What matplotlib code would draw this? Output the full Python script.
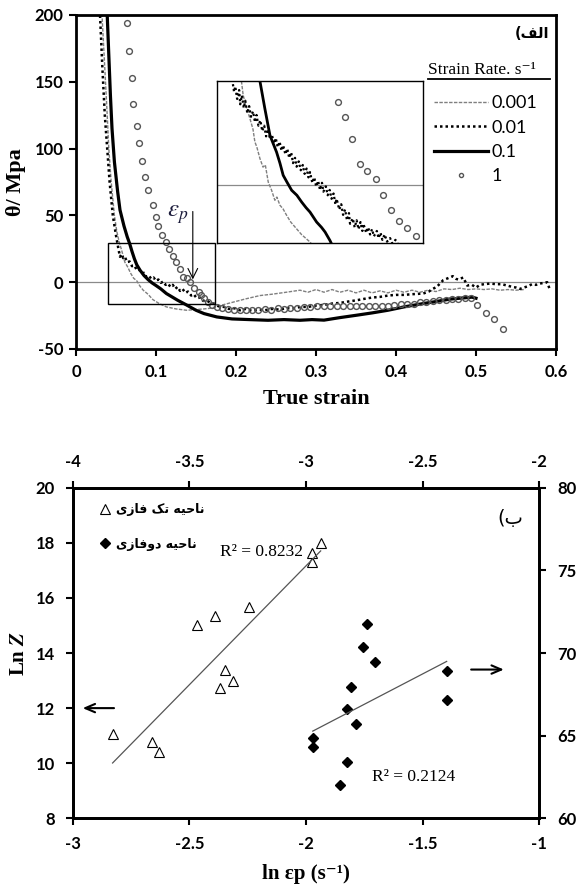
import numpy as np
import matplotlib
matplotlib.use("Agg")
import matplotlib.pyplot as plt
from matplotlib.patches import Rectangle
from matplotlib.lines import Line2D

plt.rcParams["font.family"] = ["Lato", "DejaVu Sans"]
plt.rcParams["mathtext.fontset"] = "stix"
plt.rcParams["axes.unicode_minus"] = False

SERIF = ["Liberation Serif", "DejaVu Serif"]
ARAB = ["DejaVu Sans"]

# ---------------- panel (a): work hardening rate vs true strain ----------------
rate_labels = ["0.001", "0.01", "0.1", "1"]

curve_001 = [(0.031, 215), (0.0325, 200), (0.036, 160), (0.039, 125), (0.041, 100), (0.044, 75),
             (0.048, 50), (0.051, 38), (0.054, 30), (0.057, 24), (0.061, 15), (0.065, 11), (0.068, 7),
             (0.072, 3), (0.076, 1), (0.080, -3), (0.084, -6), (0.090, -9), (0.096, -13), (0.104, -16),
             (0.113, -18.5), (0.125, -20), (0.138, -21), (0.150, -20.5), (0.160, -20), (0.168, -19.5),
             (0.180, -17.5), (0.196, -15), (0.212, -12.5), (0.230, -10), (0.245, -9), (0.263, -7.5),
             (0.280, -6), (0.290, -7.5), (0.300, -5.5), (0.310, -7.5), (0.320, -5.5), (0.330, -7.5),
             (0.340, -6), (0.350, -8), (0.360, -6), (0.370, -8), (0.380, -6.5), (0.390, -8), (0.400, -6),
             (0.410, -7.5), (0.420, -6), (0.430, -7.5), (0.440, -6), (0.450, -7), (0.460, -5),
             (0.470, -5.5), (0.480, -4.5), (0.490, -5.5), (0.500, -5), (0.510, -5.5), (0.520, -5),
             (0.530, -6), (0.540, -5.5), (0.550, -6), (0.560, -5.5)]

curve_01 = [(0.029, 215), (0.030, 200), (0.033, 160), (0.036, 125), (0.039, 100), (0.042, 75),
            (0.046, 50), (0.050, 35), (0.053, 25), (0.055, 19), (0.057, 21), (0.059, 18), (0.061, 19),
            (0.064, 15), (0.067, 15.5), (0.070, 12), (0.073, 12.5), (0.076, 9), (0.079, 9.5),
            (0.082, 6.5), (0.085, 7), (0.088, 4), (0.091, 5), (0.094, 2.5), (0.097, 3.5), (0.100, 1),
            (0.103, 2), (0.106, -0.5), (0.109, 0.5), (0.112, -2), (0.115, -1), (0.118, -3.5),
            (0.121, -2), (0.124, -5), (0.127, -3.5), (0.130, -6.5), (0.133, -5), (0.137, -8),
            (0.140, -7), (0.144, -10), (0.147, -9), (0.151, -12), (0.155, -11.5), (0.159, -14),
            (0.163, -13.5), (0.168, -15.5), (0.172, -16), (0.178, -18), (0.185, -18.5), (0.191, -20),
            (0.198, -19.5), (0.205, -21), (0.212, -20), (0.220, -21.5), (0.228, -20.5), (0.236, -21),
            (0.245, -20), (0.254, -20.5), (0.263, -19.5), (0.272, -19.5), (0.281, -18.5),
            (0.290, -18.5), (0.300, -17.5), (0.310, -17), (0.320, -16), (0.330, -15.5), (0.340, -14.5),
            (0.351, -13.5), (0.360, -12.5), (0.370, -11.5), (0.380, -11), (0.390, -10), (0.400, -9.5),
            (0.410, -9.5), (0.420, -9), (0.434, -8.5), (0.441, -7), (0.446, -5), (0.451, -3.5),
            (0.455, -1), (0.459, 1.5), (0.465, 3), (0.471, 4.5), (0.475, 2.5), (0.478, 2), (0.484, 3.5),
            (0.487, 0), (0.489, -2.5), (0.495, -2), (0.500, -4), (0.505, -2), (0.510, -1.5),
            (0.518, -1), (0.525, -1.5), (0.532, -1.5), (0.539, -2.5), (0.545, -3.5), (0.550, -4),
            (0.555, -5), (0.560, -4), (0.565, -3), (0.570, -1.5), (0.575, -2), (0.580, -1),
            (0.585, -0.5), (0.589, 0), (0.592, -5)]

curve_1_ = [(0.038, 215), (0.039, 200), (0.041, 170), (0.043, 140), (0.045, 115), (0.048, 90),
            (0.052, 68), (0.055, 54), (0.060, 42), (0.064, 34), (0.067, 29), (0.070, 23), (0.073, 17.5),
            (0.076, 13), (0.080, 9), (0.085, 5), (0.090, 2), (0.095, -0.5), (0.100, -2.5), (0.106, -5),
            (0.113, -8.5), (0.120, -11), (0.127, -13.5), (0.138, -17), (0.150, -21), (0.160, -23.5),
            (0.176, -26), (0.195, -27.5), (0.217, -28), (0.240, -28.5), (0.260, -28), (0.280, -28.5),
            (0.295, -28), (0.310, -28.4), (0.330, -26.5), (0.351, -24.7), (0.370, -23), (0.390, -21),
            (0.410, -18.5), (0.434, -16), (0.450, -14.5), (0.467, -12.7), (0.480, -12), (0.495, -11.2),
            (0.500, -12)]

curve_1 = [(0.0633, 194), (0.0667, 173), (0.070, 153), (0.0717, 133), (0.0758, 117), (0.079, 104),
           (0.0825, 91), (0.0867, 79), (0.090, 69), (0.0958, 58), (0.100, 49), (0.103, 42),
           (0.1075, 35), (0.112, 30), (0.1167, 24.5), (0.121, 19.5), (0.125, 15), (0.130, 10),
           (0.134, 4), (0.139, 3), (0.143, 0), (0.148, -4.5), (0.1533, -7.2), (0.1567, -9.7),
           (0.160, -12.2), (0.165, -14.7), (0.170, -17.2), (0.176, -18.5), (0.183, -19.5), (0.190, -20),
           (0.197, -20.5), (0.205, -20.5), (0.213, -21), (0.220, -20.5), (0.228, -21), (0.236, -20),
           (0.244, -20.5), (0.252, -19.5), (0.260, -20), (0.268, -19), (0.276, -19), (0.285, -18.5),
           (0.293, -18.5), (0.301, -18), (0.310, -17.5), (0.318, -18), (0.326, -17.5), (0.334, -17.5),
           (0.342, -18), (0.350, -17.5), (0.358, -17.5), (0.366, -18), (0.374, -17.5), (0.382, -18),
           (0.390, -17.5), (0.398, -17), (0.406, -16.5), (0.414, -16.5), (0.422, -16), (0.430, -15),
           (0.438, -14.5), (0.446, -14), (0.454, -13.5), (0.462, -13), (0.470, -12.5), (0.478, -12.5),
           (0.486, -12), (0.494, -11.5), (0.5008, -17.2), (0.5125, -23), (0.523, -27.7), (0.534, -35.2)]

# magnified view of the box around the zero crossing
inset_001 = [(0.054, 33), (0.056, 29), (0.0571, 25.1), (0.059, 22), (0.0615, 18.5), (0.0635, 15.5),
             (0.0647, 12), (0.066, 10.5), (0.068, 7.3), (0.070, 4.9), (0.0715, 5.5), (0.0734, 0.7),
             (0.0755, -1.5), (0.0777, -4.4), (0.079, -3.5), (0.081, -5.8), (0.083, -6.8),
             (0.0853, -8.6), (0.088, -10.5), (0.0918, -12.4), (0.095, -14), (0.1005, -16.1), (0.104, -18)]

inset_01 = [(0.0500, 29.5), (0.0512, 26.0), (0.0520, 27.5), (0.0532, 24.0), (0.0545, 26.5),
            (0.0552, 22.5), (0.0563, 25.0), (0.0575, 21.5), (0.0585, 23.5), (0.0598, 20.0),
            (0.0610, 22.0), (0.0622, 19.0), (0.0635, 20.5), (0.0648, 17.5), (0.0658, 19.5),
            (0.0670, 16.5), (0.0683, 18.0), (0.0695, 15.0), (0.0708, 16.5), (0.0720, 13.5),
            (0.0733, 15.5), (0.0745, 12.8), (0.0758, 14.0), (0.0770, 11.5), (0.0783, 13.0),
            (0.0795, 10.5), (0.0808, 12.0), (0.0820, 9.5), (0.0831, 11.0), (0.0845, 8.5),
            (0.0858, 10.0), (0.0870, 7.5), (0.0883, 9.0), (0.0895, 6.0), (0.0908, 7.5), (0.0918, 5.0),
            (0.0932, 6.5), (0.0945, 4.0), (0.0958, 5.5), (0.0970, 3.0), (0.0983, 4.5), (0.0995, 2.0),
            (0.1005, 3.5), (0.1020, 0.5), (0.1033, 2.0), (0.1045, -0.5), (0.1058, 1.0), (0.1070, -1.5),
            (0.1083, 0.5), (0.1092, -2.0), (0.1108, -0.5), (0.1120, -3.0), (0.1133, -1.5),
            (0.1145, -4.0), (0.1158, -2.5), (0.1170, -5.5), (0.1178, -4.0), (0.1195, -7.0),
            (0.1208, -5.5), (0.1220, -8.5), (0.1233, -7.0), (0.1245, -10.0), (0.1258, -8.0),
            (0.1265, -11.0), (0.1283, -9.5), (0.1295, -12.0), (0.1308, -10.0), (0.1320, -12.5),
            (0.1333, -10.5), (0.1345, -13.0), (0.1352, -11.0), (0.1370, -13.5), (0.1383, -12.0),
            (0.1395, -14.0), (0.1408, -12.5), (0.1420, -14.5), (0.1439, -13.0), (0.1450, -15.0),
            (0.1463, -13.5), (0.1475, -15.5), (0.1490, -14.0), (0.1505, -16.0), (0.1525, -15.0),
            (0.1540, -16.5), (0.1560, -15.5), (0.1580, -17.0)]

inset_1_ = [(0.067, 33), (0.068, 29), (0.0712, 21.3), (0.0745, 13.8), (0.0788, 9.1), (0.081, 6),
            (0.0831, 2.6), (0.0858, 0.5), (0.0886, -1.6), (0.092, -3), (0.0951, -4.9), (0.098, -6.5),
            (0.1005, -7.7), (0.1048, -10.5), (0.108, -12), (0.1103, -13.3), (0.1135, -15.7), (0.116, -18)]

inset_1 = [(0.1185, 23.2), (0.1233, 19), (0.128, 12.9), (0.133, 5.9), (0.1375, 3.7), (0.1433, 1.7),
           (0.1479, -2.8), (0.153, -7.2), (0.1584, -10.1), (0.1634, -12.2), (0.1692, -14.3)]

# ---------------- panel (b): Ln Z vs ln strain at peak ----------------
ln_eps_single = [-2.829, -2.661, -2.629, -2.466, -2.390, -2.246, -2.369, -2.346, -2.314, -1.974, -1.974, -1.937]
lnZ_single = [11.06, 10.78, 10.42, 15.00, 15.34, 15.66, 12.72, 13.38, 13.00, 17.31, 17.62, 17.98]
ln_eps_dual = [-2.737, -2.754, -2.703, -2.807, -2.823, -2.786, -2.971, -2.971, -2.823, -2.854, -2.397, -2.397]
lnZ_dual = [71.77, 70.34, 69.47, 67.96, 66.63, 65.72, 64.88, 64.33, 63.42, 62.01, 68.93, 67.16]

# Persian / Arabic labels written in visual order (matplotlib does no shaping)
label_a = "(\uFED2\uFEDF\uFE8D"
label_b = "(\uFE8F"
label_single = "\uFEEF\uFEAF\uFE8E\uFED3 \uFB8F\uFE97 \uFEEA\uFEF4\uFEA3\uFE8E\uFEE7"
label_dual = "\uFEEF\uFEAF\uFE8E\uFED3\uFEED\uFEA9 \uFEEA\uFEF4\uFEA3\uFE8E\uFEE7"

GRAY_LS = (0, (2.5, 1))
DOT_LS = (0, (1, 1.2))


def xy(pts):
    a = np.array(pts, dtype=float)
    return a[:, 0], a[:, 1]


def bold_ticks(a, size=12):
    for lbl in a.get_xticklabels() + a.get_yticklabels():
        lbl.set_fontweight("bold")
        lbl.set_fontsize(size)


fig = plt.figure(figsize=(5.82, 8.86), dpi=100)

# ======== top panel ========
ax = fig.add_axes([0.1306, 0.6061, 0.8247, 0.377])
ax.axhline(0, color="#8a8a8a", lw=0.9, zorder=1)

x, y = xy(curve_001)
l1, = ax.plot(x, y, color="#7f7f7f", lw=1.0, ls=GRAY_LS, zorder=2)
x, y = xy(curve_01)
l2, = ax.plot(x, y, color="black", lw=1.8, ls=DOT_LS, zorder=3)
x, y = xy(curve_1_)
l3, = ax.plot(x, y, color="black", lw=2.3, zorder=3)
x, y = xy(curve_1)
l4, = ax.plot(x, y, ls="none", marker="o", ms=4.2, mfc="none", mec="#555555", mew=1.0, zorder=4)

ax.set_xlim(0, 0.6)
ax.set_ylim(-50, 200)
ax.set_xticks(np.arange(0, 0.61, 0.1))
ax.set_xticklabels(["0", "0.1", "0.2", "0.3", "0.4", "0.5", "0.6"])
ax.set_yticks(np.arange(-50, 201, 50))
ax.tick_params(direction="out", length=5, width=1.5, pad=6, top=False, right=False)
ax.tick_params(axis="y", pad=4)
bold_ticks(ax)
for s in ax.spines.values():
    s.set_linewidth(2)

ax.set_xlabel("True strain", family=SERIF, fontweight="bold", fontsize=16)
ax.xaxis.set_label_coords(0.5, -0.12)
ax.set_ylabel("θ/ Mpa", family=SERIF, fontweight="bold", fontsize=16)
ax.yaxis.set_label_coords(-0.105, 0.5)

# box marking the magnified region
ax.add_patch(Rectangle((0.04, -16.5), 0.134, 45.5, fill=False, lw=1, ec="black", zorder=5))

ins = ax.inset_axes([0.176, 29, 0.258, 121.5], transform=ax.transData)
ins.axhline(0, color="#8a8a8a", lw=0.9)
x, y = xy(inset_001)
ins.plot(x, y, color="#7f7f7f", lw=1.0, ls=GRAY_LS)
x, y = xy(inset_01)
ins.plot(x, y, color="black", lw=1.6, ls=DOT_LS)
x, y = xy(inset_1_)
ins.plot(x, y, color="black", lw=2.0)
x, y = xy(inset_1)
ins.plot(x, y, ls="none", marker="o", ms=4.2, mfc="none", mec="#555555", mew=1.0)
ins.set_xlim(0.04, 0.174)
ins.set_ylim(-16.5, 29)
ins.set_xticks([])
ins.set_yticks([])
for s in ins.spines.values():
    s.set_linewidth(1)

# epsilon_p marker
ax.annotate("", xy=(0.146, 0), xytext=(0.146, 55),
            arrowprops=dict(arrowstyle="->,head_width=0.35,head_length=0.7", lw=0.8, color="black"))
ax.text(0.1275, 51, r"$\varepsilon_p$", fontsize=18, ha="center", va="center", color="#1a1a3a")

# legend
ax.text(0.733, 0.835, "Strain Rate. s⁻¹", transform=ax.transAxes, family=SERIF,
        fontsize=12.5, ha="left", va="center")
ax.add_line(Line2D([0.733, 0.987], [0.807, 0.807], transform=ax.transAxes, color="black", lw=1.3))
ax.text(0.985, 0.946, label_a, transform=ax.transAxes, family=ARAB, fontweight="bold",
        fontsize=10.5, ha="right", va="center")
ax.legend([l1, l2, l3, l4], rate_labels, loc="upper left", bbox_to_anchor=(0.745, 0.759),
          frameon=False, handlelength=3.0, handletextpad=0.2, labelspacing=0.46,
          borderpad=0, borderaxespad=0, markerscale=0.7, prop={"family": "Lato", "size": 13})

# ======== bottom panel ========
axb = fig.add_axes([0.1249, 0.0764, 0.8017, 0.3731])
axd = fig.add_axes([0.1249, 0.0764, 0.8017, 0.3731])
axd.patch.set_visible(False)

tri, = axb.plot(ln_eps_single, lnZ_single, ls="none", marker="^", ms=6.5, mfc="white",
                mec="black", mew=0.8)
k1 = np.polyfit(ln_eps_single, lnZ_single, 1)
xf = np.array([min(ln_eps_single), max(ln_eps_single)])
axb.plot(xf, np.polyval(k1, xf), color="#555555", lw=0.9)

dia, = axd.plot(ln_eps_dual, lnZ_dual, ls="none", marker="D", ms=5, mfc="black", mec="black")
k2 = np.polyfit(ln_eps_dual, lnZ_dual, 1)
xf2 = np.array([min(ln_eps_dual), max(ln_eps_dual)])
axd.plot(xf2, np.polyval(k2, xf2), color="#555555", lw=0.9)

axb.set_xlim(-3, -1)
axb.set_ylim(8, 20)
axb.set_xticks(np.arange(-3, -0.99, 0.5))
axb.set_xticklabels(["-3", "-2.5", "-2", "-1.5", "-1"])
axb.set_yticks(np.arange(8, 21, 2))
axb.tick_params(direction="out", length=5, width=1.5, pad=8, top=False, right=False)

axd.set_xlim(-4, -2)
axd.set_ylim(60, 80)
axd.set_xticks(np.arange(-4, -1.99, 0.5))
axd.set_xticklabels(["-4", "-3.5", "-3", "-2.5", "-2"])
axd.set_yticks(np.arange(60, 81, 5))
axd.xaxis.tick_top()
axd.yaxis.tick_right()
axd.tick_params(direction="out", length=5, width=1.5, pad=8)
bold_ticks(axb)
bold_ticks(axd)
for a in (axb, axd):
    for s in a.spines.values():
        s.set_linewidth(2)

axb.set_xlabel("ln εp (s⁻¹)", family=SERIF, fontweight="bold", fontsize=15)
axb.xaxis.set_label_coords(0.5, -0.138)
axb.set_ylabel(r"Ln $\mathbfit{Z}$", family=SERIF, fontweight="bold", fontsize=15)
axb.yaxis.set_label_coords(-0.093, 0.5)

axb.text(-2.369, 17.68, "R² = 0.8232", family=SERIF, fontsize=12.5, ha="left", va="center")
axb.text(-1.718, 9.51, "R² = 0.2124", family=SERIF, fontsize=12.5, ha="left", va="center")

axb.annotate("", xy=(-2.969, 12), xytext=(-2.811, 12),
             arrowprops=dict(arrowstyle="->,head_width=0.3,head_length=0.7", lw=1.5, color="black"))
axd.annotate("", xy=(-2.140, 69.0), xytext=(-2.304, 69.0),
             arrowprops=dict(arrowstyle="->,head_width=0.3,head_length=0.7", lw=1.5, color="black"))

axd.text(0.965, 0.908, label_b, transform=axd.transAxes, family=ARAB, fontsize=14,
         ha="right", va="center")
axd.legend([tri, dia], [label_single, label_dual], loc="upper left", bbox_to_anchor=(0.058, 0.953),
           frameon=False, handlelength=0.8, handletextpad=0.5, labelspacing=1.7, borderpad=0,
           borderaxespad=0, prop={"family": ARAB, "size": 9, "weight": "bold"})

fig.savefig("out.png", dpi=100)
